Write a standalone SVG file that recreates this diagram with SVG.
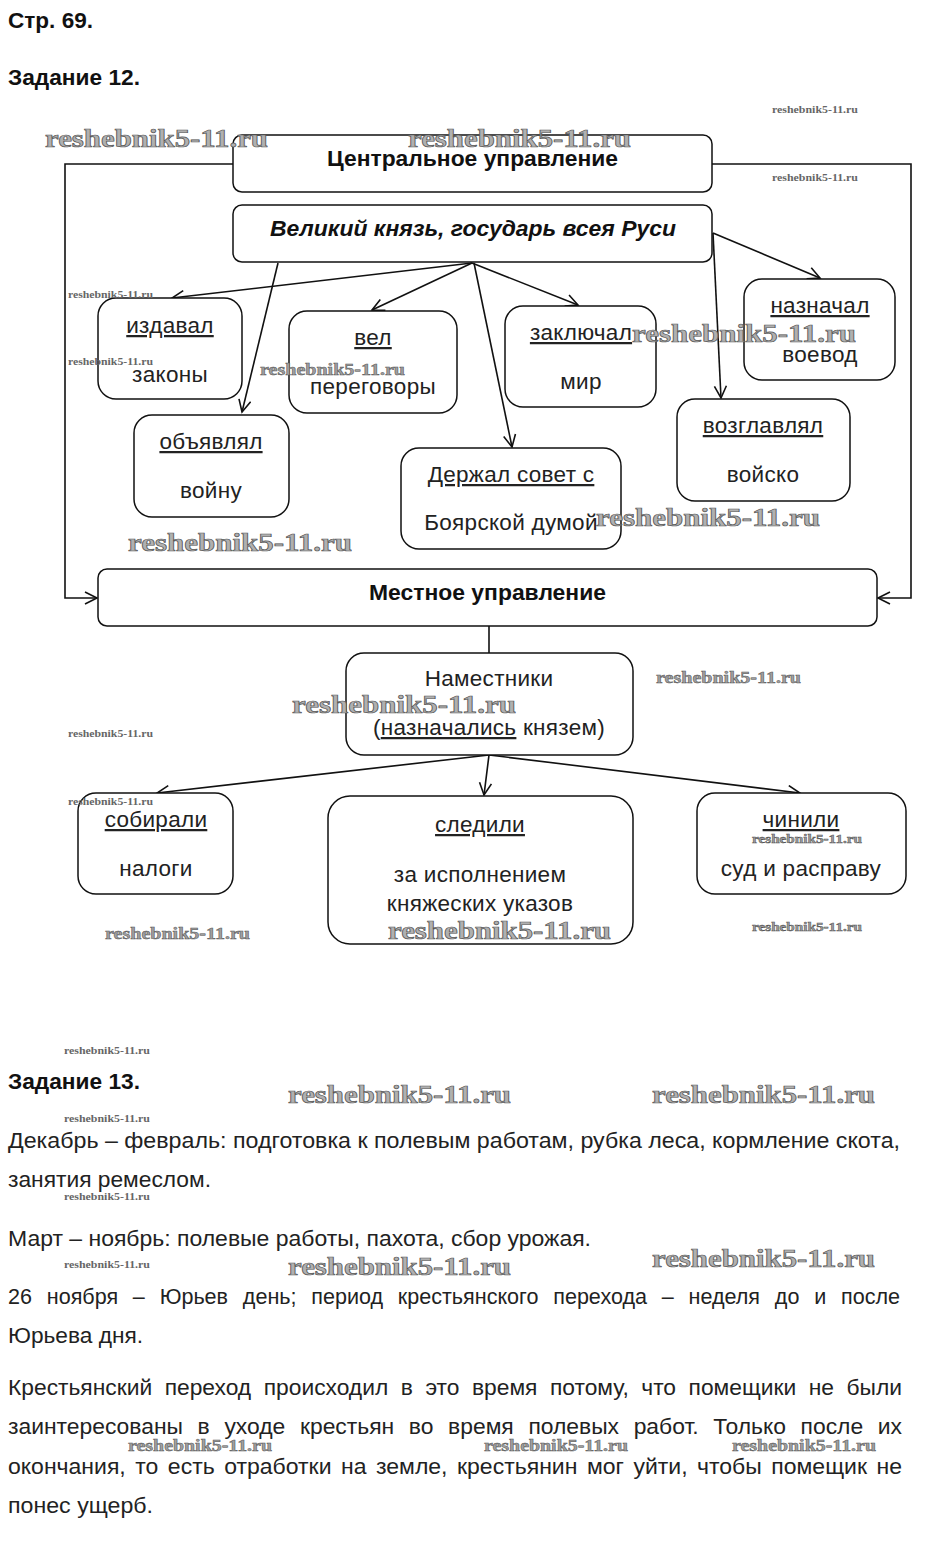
<svg xmlns="http://www.w3.org/2000/svg" width="926" height="1563" viewBox="0 0 926 1563">
<style>
.h{font-family:"Liberation Sans",Arial,sans-serif;font-weight:bold;font-size:22px;fill:#111}
.box{fill:#fff;stroke:#111;stroke-width:1.5}
.t{font-family:"Liberation Sans",Arial,sans-serif;font-size:22.5px;fill:#222;text-anchor:middle;letter-spacing:0.3px}
.tb{font-family:"Liberation Sans",Arial,sans-serif;font-size:21.5px;font-weight:bold;fill:#111}
.u{text-decoration:underline}
.c{fill:none;stroke:#111;stroke-width:1.6}
.p{font-family:"Liberation Sans",Arial,sans-serif;font-size:22px;fill:#222}
.wl{font-family:"Liberation Serif","Times New Roman",serif;font-weight:bold;font-size:25px;fill:#b0b0b0;stroke:#555;stroke-width:0.7}
.wm{font-family:"Liberation Serif","Times New Roman",serif;font-weight:bold;font-size:17px;fill:#a0a0a0;stroke:#555;stroke-width:0.5}
.ws{font-family:"Liberation Serif","Times New Roman",serif;font-weight:bold;font-size:10px;fill:#666}
</style>
<defs>
<marker id="a" markerUnits="userSpaceOnUse" markerWidth="16" markerHeight="16" refX="13" refY="7" orient="auto">
<path d="M1,1 L13,7 L1,13" fill="none" stroke="#111" stroke-width="1.6"/>
</marker>
</defs>
<rect width="926" height="1563" fill="#fff"/>
<text class="h" x="8" y="28" textLength="85" lengthAdjust="spacingAndGlyphs">Стр. 69.</text>
<text class="h" x="8" y="85" textLength="132" lengthAdjust="spacingAndGlyphs">Задание 12.</text>

<g id="connectors">
<path class="c" d="M233,164 H65 V598 H97" marker-end="url(#a)"/>
<path class="c" d="M712,164 H911 V598 H878" marker-end="url(#a)"/>
<path class="c" d="M472,263 L172,298" marker-end="url(#a)"/>
<path class="c" d="M278,263 L242,412" marker-end="url(#a)"/>
<path class="c" d="M472,263 L372,310" marker-end="url(#a)"/>
<path class="c" d="M472,263 L578,305" marker-end="url(#a)"/>
<path class="c" d="M474,263 L512,447" marker-end="url(#a)"/>
<path class="c" d="M713,233 L820,278" marker-end="url(#a)"/>
<path class="c" d="M713,233 L721,398" marker-end="url(#a)"/>
<path class="c" d="M489,626 V653"/>
<path class="c" d="M489,755 L157,793" marker-end="url(#a)"/>
<path class="c" d="M489,755 L484,795" marker-end="url(#a)"/>
<path class="c" d="M489,755 L800,793" marker-end="url(#a)"/>
</g>

<g id="central"><rect class="box" x="233" y="135" width="479" height="57" rx="9"/><text class="tb" x="327" y="166" textLength="291" lengthAdjust="spacingAndGlyphs">Центральное управление</text></g>
<g id="prince"><rect class="box" x="233" y="205" width="479" height="57" rx="9"/><text class="tb" x="270" y="236" font-style="italic" textLength="406" lengthAdjust="spacingAndGlyphs">Великий князь, государь всея Руси</text></g>
<g id="izdaval"><rect class="box" x="98" y="298" width="144" height="101" rx="18"/><text class="t u" x="170" y="333">издавал</text><text class="t" x="170" y="382">законы</text></g>
<g id="vel"><rect class="box" x="289" y="311" width="168" height="102" rx="18"/><text class="t u" x="373" y="345">вел</text><text class="t" x="373" y="394">переговоры</text></g>
<g id="zaklyuchal"><rect class="box" x="505" y="306" width="151" height="101" rx="18"/><text class="t u" x="581" y="340">заключал</text><text class="t" x="581" y="389">мир</text></g>
<g id="naznachal"><rect class="box" x="744" y="279" width="151" height="101" rx="18"/><text class="t u" x="820" y="313">назначал</text><text class="t" x="820" y="362">воевод</text></g>
<g id="obyavlyal"><rect class="box" x="134" y="415" width="155" height="102" rx="18"/><text class="t u" x="211" y="449">объявлял</text><text class="t" x="211" y="498">войну</text></g>
<g id="derzhal"><rect class="box" x="401" y="448" width="220" height="101" rx="18"/><text class="t u" x="511" y="482">Держал совет с</text><text class="t" x="511" y="530">Боярской думой</text></g>
<g id="vozglavlyal"><rect class="box" x="677" y="399" width="173" height="102" rx="18"/><text class="t u" x="763" y="433">возглавлял</text><text class="t" x="763" y="482">войско</text></g>
<g id="local"><rect class="box" x="98" y="569" width="779" height="57" rx="9"/><text class="tb" x="369" y="600" textLength="237" lengthAdjust="spacingAndGlyphs">Местное управление</text></g>
<g id="namestniki"><rect class="box" x="346" y="653" width="287" height="102" rx="18"/><text class="t" x="489" y="686">Наместники</text><text class="t" x="489" y="735">(<tspan class="u">назначались</tspan> князем)</text></g>
<g id="sobirali"><rect class="box" x="78" y="793" width="155" height="101" rx="18"/><text class="t u" x="156" y="827">собирали</text><text class="t" x="156" y="876">налоги</text></g>
<g id="sledili"><rect class="box" x="328" y="796" width="305" height="148" rx="22"/><text class="t u" x="480" y="832">следили</text><text class="t" x="480" y="882">за исполнением</text><text class="t" x="480" y="911">княжеских указов</text></g>
<g id="chinili"><rect class="box" x="697" y="793" width="209" height="101" rx="18"/><text class="t u" x="801" y="827">чинили</text><text class="t" x="801" y="876">суд и расправу</text></g>

<text class="h" x="8" y="1089" textLength="132" lengthAdjust="spacingAndGlyphs">Задание 13.</text>
<text class="p" x="8" y="1148" textLength="892" lengthAdjust="spacingAndGlyphs">Декабрь – февраль: подготовка к полевым работам, рубка леса, кормление скота,</text>
<text class="p" x="8" y="1187" textLength="203" lengthAdjust="spacingAndGlyphs">занятия ремеслом.</text>
<text class="p" x="8" y="1246" textLength="583" lengthAdjust="spacingAndGlyphs">Март – ноябрь: полевые работы, пахота, сбор урожая.</text>
<text class="p" x="8" y="1304" textLength="892" lengthAdjust="spacingAndGlyphs" word-spacing="9">26 ноября – Юрьев день; период крестьянского перехода – неделя до и после</text>
<text class="p" x="8" y="1343" textLength="135" lengthAdjust="spacingAndGlyphs">Юрьева дня.</text>
<text class="p" x="8" y="1395" textLength="894" lengthAdjust="spacingAndGlyphs" word-spacing="6">Крестьянский переход происходил в это время потому, что помещики не были</text>
<text class="p" x="8" y="1434" textLength="894" lengthAdjust="spacingAndGlyphs" word-spacing="8">заинтересованы в уходе крестьян во время полевых работ. Только после их</text>
<text class="p" x="8" y="1474" textLength="894" lengthAdjust="spacingAndGlyphs" word-spacing="3">окончания, то есть отработки на земле, крестьянин мог уйти, чтобы помещик не</text>
<text class="p" x="8" y="1513" textLength="145" lengthAdjust="spacingAndGlyphs">понес ущерб.</text>

<g id="watermarks">
<text class="wl" x="45" y="147" textLength="223" lengthAdjust="spacingAndGlyphs">reshebnik5-11.ru</text>
<text class="wl" x="408" y="147" textLength="223" lengthAdjust="spacingAndGlyphs">reshebnik5-11.ru</text>
<text class="wl" x="632" y="342" textLength="224" lengthAdjust="spacingAndGlyphs">reshebnik5-11.ru</text>
<text class="wl" x="596" y="526" textLength="224" lengthAdjust="spacingAndGlyphs">reshebnik5-11.ru</text>
<text class="wl" x="128" y="551" textLength="224" lengthAdjust="spacingAndGlyphs">reshebnik5-11.ru</text>
<text class="wl" x="292" y="713" textLength="224" lengthAdjust="spacingAndGlyphs">reshebnik5-11.ru</text>
<text class="wl" x="388" y="939" textLength="223" lengthAdjust="spacingAndGlyphs">reshebnik5-11.ru</text>
<text class="wl" x="288" y="1103" textLength="223" lengthAdjust="spacingAndGlyphs">reshebnik5-11.ru</text>
<text class="wl" x="652" y="1103" textLength="223" lengthAdjust="spacingAndGlyphs">reshebnik5-11.ru</text>
<text class="wl" x="652" y="1267" textLength="223" lengthAdjust="spacingAndGlyphs">reshebnik5-11.ru</text>
<text class="wl" x="288" y="1275" textLength="223" lengthAdjust="spacingAndGlyphs">reshebnik5-11.ru</text>
<text class="wm" x="260" y="375" textLength="145" lengthAdjust="spacingAndGlyphs">reshebnik5-11.ru</text>
<text class="wm" x="656" y="683" textLength="145" lengthAdjust="spacingAndGlyphs">reshebnik5-11.ru</text>
<text class="wm" x="105" y="939" textLength="145" lengthAdjust="spacingAndGlyphs">reshebnik5-11.ru</text>
<text class="wm" x="752" y="843" textLength="110" lengthAdjust="spacingAndGlyphs" style="font-size:13px">reshebnik5-11.ru</text>
<text class="wm" x="752" y="931" textLength="110" lengthAdjust="spacingAndGlyphs" style="font-size:13px">reshebnik5-11.ru</text>
<text class="wm" x="128" y="1451" textLength="144" lengthAdjust="spacingAndGlyphs">reshebnik5-11.ru</text>
<text class="wm" x="484" y="1451" textLength="144" lengthAdjust="spacingAndGlyphs">reshebnik5-11.ru</text>
<text class="wm" x="732" y="1451" textLength="144" lengthAdjust="spacingAndGlyphs">reshebnik5-11.ru</text>
<text class="ws" x="772" y="113" textLength="86" lengthAdjust="spacingAndGlyphs">reshebnik5-11.ru</text>
<text class="ws" x="772" y="181" textLength="86" lengthAdjust="spacingAndGlyphs">reshebnik5-11.ru</text>
<text class="ws" x="68" y="298" textLength="85" lengthAdjust="spacingAndGlyphs">reshebnik5-11.ru</text>
<text class="ws" x="68" y="365" textLength="85" lengthAdjust="spacingAndGlyphs">reshebnik5-11.ru</text>
<text class="ws" x="68" y="737" textLength="85" lengthAdjust="spacingAndGlyphs">reshebnik5-11.ru</text>
<text class="ws" x="68" y="805" textLength="85" lengthAdjust="spacingAndGlyphs">reshebnik5-11.ru</text>
<text class="ws" x="64" y="1054" textLength="86" lengthAdjust="spacingAndGlyphs">reshebnik5-11.ru</text>
<text class="ws" x="64" y="1122" textLength="86" lengthAdjust="spacingAndGlyphs">reshebnik5-11.ru</text>
<text class="ws" x="64" y="1200" textLength="86" lengthAdjust="spacingAndGlyphs">reshebnik5-11.ru</text>
<text class="ws" x="64" y="1268" textLength="86" lengthAdjust="spacingAndGlyphs">reshebnik5-11.ru</text>
</g>
</svg>
